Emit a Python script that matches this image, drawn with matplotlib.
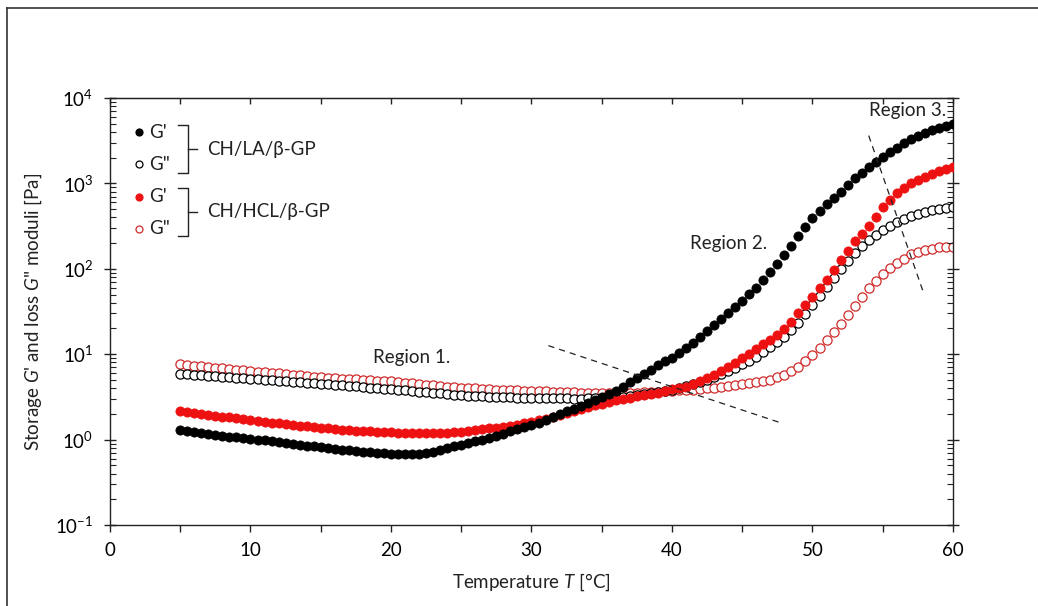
import matplotlib
matplotlib.use("Agg")
import matplotlib.pyplot as plt
from matplotlib.lines import Line2D
from matplotlib.ticker import LogLocator, MultipleLocator, NullFormatter
import numpy as np

plt.rcParams['font.family'] = ['Lato', 'DejaVu Sans']
plt.rcParams['mathtext.fontset'] = 'custom'
plt.rcParams['mathtext.rm'] = 'Lato'
plt.rcParams['mathtext.it'] = 'Lato:italic'
plt.rcParams['axes.unicode_minus'] = False

# temperature of each measuring point [°C]
temp_c = [
    5.0, 5.5, 6.0, 6.5, 7.0, 7.5, 8.0, 8.5, 9.0, 9.5,
    10.0, 10.5, 11.0, 11.5, 12.0, 12.5, 13.0, 13.5, 14.0, 14.5,
    15.0, 15.5, 16.0, 16.5, 17.0, 17.5, 18.0, 18.5, 19.0, 19.5,
    20.0, 20.5, 21.0, 21.5, 22.0, 22.5, 23.0, 23.5, 24.0, 24.5,
    25.0, 25.5, 26.0, 26.5, 27.0, 27.5, 28.0, 28.5, 29.0, 29.5,
    30.0, 30.5, 31.0, 31.5, 32.0, 32.5, 33.0, 33.5, 34.0, 34.5,
    35.0, 35.5, 36.0, 36.5, 37.0, 37.5, 38.0, 38.5, 39.0, 39.5,
    40.0, 40.5, 41.0, 41.5, 42.0, 42.5, 43.0, 43.5, 44.0, 44.5,
    45.0, 45.5, 46.0, 46.5, 47.0, 47.5, 48.0, 48.5, 49.0, 49.5,
    50.0, 50.5, 51.0, 51.5, 52.0, 52.5, 53.0, 53.5, 54.0, 54.5,
    55.0, 55.5, 56.0, 56.5, 57.0, 57.5, 58.0, 58.5, 59.0, 59.5,
    60.0]

# CH/LA/b-GP  storage modulus G' [Pa]
la_storage = [
    1.30, 1.265, 1.23, 1.20, 1.16, 1.135, 1.11, 1.085, 1.06, 1.04,
    1.02, 1.00, 0.977, 0.955, 0.933, 0.912, 0.891, 0.871, 0.851, 0.832,
    0.813, 0.794, 0.776, 0.762, 0.75, 0.736, 0.724, 0.711, 0.70, 0.692,
    0.684, 0.679, 0.676, 0.678, 0.684, 0.697, 0.716, 0.75, 0.794, 0.832,
    0.871, 0.912, 0.955, 1.00, 1.047, 1.11, 1.175, 1.245, 1.32, 1.40,
    1.48, 1.585, 1.70, 1.84, 2.00, 2.14, 2.29, 2.48, 2.69, 2.92,
    3.16, 3.43, 3.72, 4.17, 4.68, 5.25, 5.89, 6.61, 7.41, 8.22,
    9.12, 10.35, 11.75, 13.65, 15.85, 18.6, 21.9, 25.7, 30.2, 35.5,
    41.7, 50.1, 60.3, 74.1, 91.2, 115, 145, 186, 240, 309,
    389, 479, 575, 676, 794, 955, 1148, 1334, 1549, 1778,
    2042, 2317, 2630, 2951, 3311, 3589, 3890, 4169, 4467, 4732,
    5012]

# CH/LA/b-GP  loss modulus G'' [Pa]
la_loss = [
    5.89, 5.81, 5.73, 5.65, 5.57, 5.50, 5.42, 5.35, 5.27, 5.20,
    5.13, 5.07, 5.00, 4.94, 4.88, 4.82, 4.75, 4.70, 4.63, 4.57,
    4.52, 4.45, 4.39, 4.32, 4.26, 4.19, 4.13, 4.07, 4.02, 3.95,
    3.89, 3.82, 3.76, 3.70, 3.64, 3.58, 3.52, 3.47, 3.42, 3.37,
    3.31, 3.28, 3.25, 3.22, 3.19, 3.17, 3.15, 3.13, 3.11, 3.10,
    3.09, 3.08, 3.06, 3.05, 3.03, 3.03, 3.02, 3.02, 3.03, 3.04,
    3.06, 3.09, 3.13, 3.18, 3.24, 3.31, 3.39, 3.48, 3.59, 3.72,
    3.85, 4.01, 4.20, 4.42, 4.68, 5.01, 5.37, 5.82, 6.31, 6.92,
    7.59, 8.41, 9.33, 10.6, 12.0, 13.8, 15.8, 19.3, 23.4, 29.5,
    37.2, 47.9, 61.7, 78.5, 100, 124, 155, 184, 219, 248,
    282, 316, 355, 385, 417, 442, 468, 484, 501, 513,
    525]

# CH/HCL/b-GP  storage modulus G' [Pa]
hcl_storage = [
    2.14, 2.09, 2.04, 2.00, 1.95, 1.91, 1.86, 1.82, 1.78, 1.74,
    1.70, 1.66, 1.62, 1.585, 1.55, 1.51, 1.48, 1.45, 1.43, 1.41,
    1.38, 1.355, 1.33, 1.31, 1.29, 1.27, 1.26, 1.245, 1.23, 1.22,
    1.215, 1.21, 1.20, 1.195, 1.19, 1.185, 1.19, 1.195, 1.20, 1.215,
    1.23, 1.26, 1.29, 1.32, 1.35, 1.38, 1.41, 1.45, 1.50, 1.55,
    1.60, 1.68, 1.76, 1.84, 1.95, 2.04, 2.16, 2.26, 2.40, 2.51,
    2.63, 2.75, 2.88, 2.99, 3.09, 3.20, 3.31, 3.43, 3.55, 3.72,
    3.89, 4.03, 4.17, 4.47, 4.79, 5.25, 5.75, 6.38, 7.08, 7.94,
    8.91, 10.1, 11.5, 13.0, 14.8, 17.0, 19.5, 24.0, 30.2, 37.6,
    46.8, 58.9, 74.1, 96.6, 126, 162, 209, 257, 316, 407,
    525, 646, 776, 891, 1000, 1096, 1202, 1288, 1380, 1462,
    1549]

# CH/HCL/b-GP  loss modulus G'' [Pa]
hcl_loss = [
    7.59, 7.45, 7.33, 7.19, 7.08, 6.95, 6.84, 6.71, 6.61, 6.49,
    6.38, 6.27, 6.17, 6.05, 5.96, 5.85, 5.75, 5.65, 5.56, 5.46,
    5.37, 5.31, 5.25, 5.19, 5.13, 5.07, 5.01, 4.95, 4.90, 4.84,
    4.79, 4.70, 4.62, 4.54, 4.47, 4.39, 4.32, 4.24, 4.17, 4.12,
    4.07, 4.03, 3.98, 3.94, 3.89, 3.85, 3.80, 3.78, 3.76, 3.73,
    3.72, 3.69, 3.67, 3.65, 3.63, 3.61, 3.59, 3.56, 3.55, 3.55,
    3.55, 3.55, 3.55, 3.55, 3.55, 3.56, 3.59, 3.61, 3.63, 3.67,
    3.72, 3.76, 3.80, 3.85, 3.89, 3.98, 4.07, 4.14, 4.22, 4.32,
    4.42, 4.54, 4.68, 4.84, 5.01, 5.37, 5.75, 6.31, 7.08, 8.32,
    9.77, 11.9, 14.5, 18.0, 22.4, 28.5, 36.3, 46.8, 60.3, 72.4,
    87.1, 101, 117, 132, 148, 157, 166, 172, 178, 180,
    182]

# dashed region boundaries (T [°C], G [Pa])
boundary_12_t = [31.2, 47.7]
boundary_12_g = [12.6, 1.58]
boundary_23_t = [54.0, 57.9]
boundary_23_g = [3630, 52.6]

region_labels = ["Region 1.", "Region 2.", "Region 3."]
region_t = [21.5, 44.0, 56.8]
region_g = [9.1, 198, 7100]

RED = '#ee1111'
RED_OPEN = '#d02a2a'
INK = '#222222'
FS = 13.5

W, H = 1038, 606
fig = plt.figure(figsize=(W / 100, H / 100), dpi=100)
ax = fig.add_axes([110 / W, 1 - 525 / H, 843 / W, 427 / H])

ms = 6.6
ax.plot(temp_c, la_storage, 'o', ls='none', ms=ms, mfc='black', mec='black', mew=0.6, zorder=4)
ax.plot(temp_c, hcl_storage, 'o', ls='none', ms=ms, mfc=RED, mec=RED, mew=0.6, zorder=3)
ax.plot(temp_c, la_loss, 'o', ls='none', ms=ms, mfc='white', mec='black', mew=0.9, zorder=2)
ax.plot(temp_c, hcl_loss, 'o', ls='none', ms=ms, mfc='white', mec=RED_OPEN, mew=0.9, zorder=1)

ax.plot(boundary_12_t, boundary_12_g, ls=(0, (5, 4)), color=INK, lw=0.9, zorder=5)
ax.plot(boundary_23_t, boundary_23_g, ls=(0, (5, 4)), color=INK, lw=0.9, zorder=5)

for lab, t, g in zip(region_labels, region_t, region_g):
    ax.text(t, g, lab, ha='center', va='center', fontsize=FS, color=INK, zorder=6)

ax.set_yscale('log')
ax.set_xlim(0, 60)
ax.set_ylim(0.1, 1e4)
ax.xaxis.set_major_locator(MultipleLocator(10))
ax.xaxis.set_minor_locator(MultipleLocator(5))
ax.yaxis.set_major_locator(LogLocator(base=10, numticks=10))
ax.yaxis.set_minor_locator(LogLocator(base=10, subs=np.arange(2, 10), numticks=10))
ax.yaxis.set_minor_formatter(NullFormatter())

for s in ax.spines.values():
    s.set_linewidth(1.0)
    s.set_color(INK)

ax.tick_params(axis='x', which='both', direction='out', length=5, width=1.0,
               color=INK, labelsize=FS, pad=7, top=False)
ax.tick_params(axis='y', which='major', direction='inout', length=8, width=1.0,
               color=INK, labelsize=FS, pad=8, left=True, right=True)
ax.tick_params(axis='y', which='minor', direction='in', length=4, width=0.8,
               color=INK, left=True, right=True)

top = ax.secondary_xaxis('top')
top.xaxis.set_major_locator(MultipleLocator(5))
top.tick_params(direction='in', length=4, width=1.0, color=INK, labelsize=0, labeltop=False)

ax.set_xlabel("Temperature $T$ [°C]", fontsize=FS, labelpad=9, color=INK)
ax.set_ylabel("Storage $G$' and loss $G$\" moduli [Pa]", fontsize=FS, labelpad=8, color=INK)


def axf(px, py):
    return (px - 110) / 843, (525 - py) / 427


# legend drawn by hand with braces
legend_rows = [("G'", 132, 'black', 'black'), ('G"', 164, 'white', 'black'),
               ("G'", 197, RED, RED), ('G"', 229, 'white', RED_OPEN)]
for lab, py, fc, ec in legend_rows:
    x0, y0 = axf(139, py)
    ax.plot([x0], [y0], 'o', ms=5, mfc=fc, mec=ec, mew=0.9, transform=ax.transAxes, clip_on=False)
    x1, _ = axf(149, py)
    ax.text(x1, y0, lab, transform=ax.transAxes, ha='left', va='center', fontsize=FS, color=INK)

for top_py, bot_py, label in [(125, 173, "CH/LA/β-GP"), (188, 236, "CH/HCL/β-GP")]:
    mid = (top_py + bot_py) / 2
    pts = [axf(178, top_py), axf(188, top_py), axf(188, bot_py), axf(178, bot_py)]
    ax.add_line(Line2D([p[0] for p in pts], [p[1] for p in pts], color=INK, lw=1.0,
                       transform=ax.transAxes, clip_on=False))
    n0, n1 = axf(188, mid), axf(197, mid)
    ax.add_line(Line2D([n0[0], n1[0]], [n0[1], n1[1]], color=INK, lw=1.0,
                       transform=ax.transAxes, clip_on=False))
    tx, ty = axf(207, mid)
    ax.text(tx, ty, label, transform=ax.transAxes, ha='left', va='center', fontsize=FS, color=INK)

# outer frame of the figure (only top and left edges visible)
fig.add_artist(Line2D([7 / W, 1], [1 - 8 / H, 1 - 8 / H], color='#333333', lw=1.2))
fig.add_artist(Line2D([7 / W, 7 / W], [0, 1 - 8 / H], color='#333333', lw=1.2))

fig.savefig('out.png', dpi=100)
